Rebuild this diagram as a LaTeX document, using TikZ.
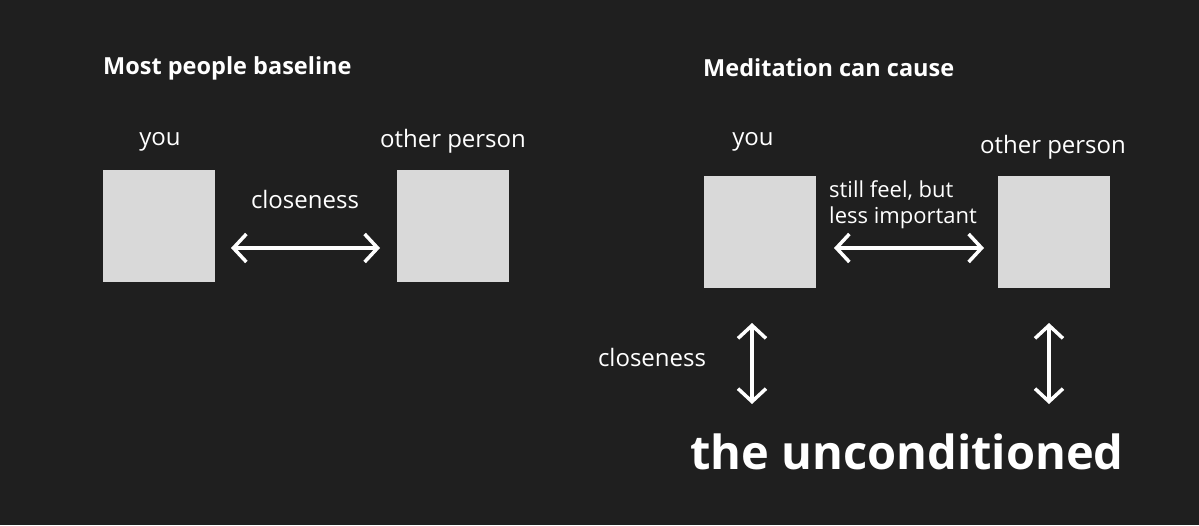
\documentclass[tikz,border=0pt]{standalone}
\usepackage{fontspec}
\setmainfont{Open Sans}
\usetikzlibrary{arrows.meta}
\definecolor{bg}{HTML}{1F1F1F}
\definecolor{boxgray}{HTML}{D9D9D9}
\begin{document}
\begin{tikzpicture}[x=1pt,y=-1pt,
  box/.style={fill=boxgray,draw=none,minimum width=112pt,minimum height=112pt,inner sep=0pt,anchor=north west},
  lbl/.style={text=white,font=\fontsize{24}{28}\selectfont,inner sep=0pt},
  ttl/.style={text=white,font=\fontsize{23.5}{28}\selectfont\bfseries,inner sep=0pt,anchor=west},
  big/.style={text=white,font=\fontsize{47}{56}\selectfont\bfseries,inner sep=0pt},
  dbl/.style={white,line width=3.5pt,line cap=round,{Straight Barb[length=13pt,width=28pt]}-{Straight Barb[length=13pt,width=28pt]}}
]
\fill[bg] (0,0) rectangle (1199,525);
\useasboundingbox (0,0) rectangle (1199,525);

% left panel
\node[ttl] (t1) at (103,68) {Most people baseline};
\node[box] (b1) at (103,170) {};
\node[box] (b2) at (397,170) {};
\node[lbl] (you1) at (160,142) {you};
\node[lbl] (op1) at (453,141) {other person};
\node[lbl] (c1) at (305,199) {closeness};
\coordinate (a1l) at (231,248);
\coordinate (a1r) at (380,248);
\draw[dbl] (a1l) -- (a1r);

% right panel
\node[ttl] (t2) at (703,68) {Meditation can cause};
\node[box] (b3) at (704,176) {};
\node[box] (b4) at (998,176) {};
\node[lbl] (you2) at (753,142) {you};
\node[lbl] (op2) at (1053,147) {other person};
\node[lbl,anchor=west,align=left,font=\fontsize{22}{26}\selectfont] (sf) at (829,205) {still feel, but\\less important};
\coordinate (a2l) at (834,248);
\coordinate (a2r) at (984,248);
\draw[dbl] (a2l) -- (a2r);

\node[big] (unc) at (907,452) {the unconditioned};
\coordinate (v1t) at (752,323);
\coordinate (v1b) at (752,404);
\draw[dbl] (v1t) -- (v1b);
\coordinate (v2t) at (1049,323);
\coordinate (v2b) at (1049,404);
\draw[dbl] (v2t) -- (v2b);
\node[lbl] (c2) at (652,357) {closeness};
\end{tikzpicture}
\end{document}
